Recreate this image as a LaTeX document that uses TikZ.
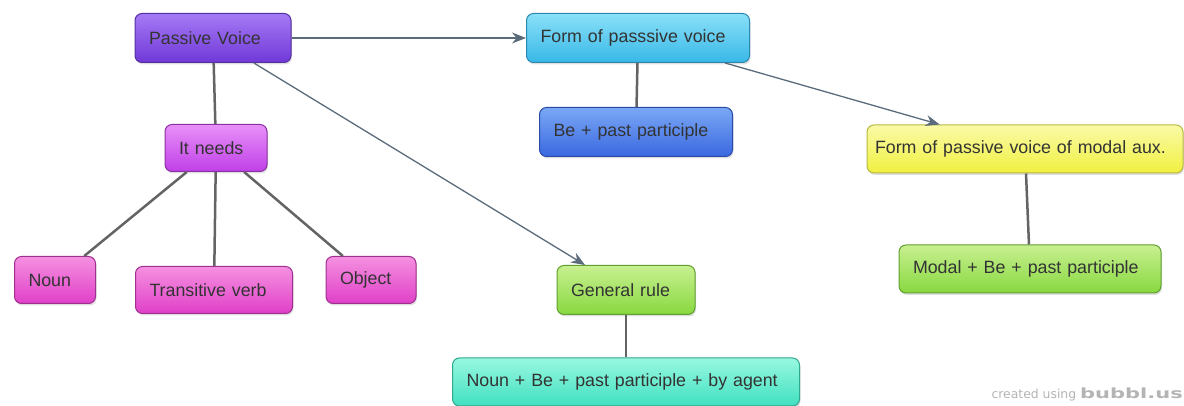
\documentclass[tikz,border=0pt]{standalone}
\usepackage{fontspec}
\setmainfont{Liberation Sans}
\newfontfamily\markfont{DejaVu Sans}
\usepackage{graphicx}
\usetikzlibrary{arrows.meta, shadows}

\definecolor{txtgray}{HTML}{333333}
\definecolor{linkgray}{HTML}{646464}
\definecolor{arrowgray}{HTML}{5A6B7B}
\definecolor{markgray}{HTML}{B4B4B4}
\definecolor{violettop}{HTML}{A57AF5}
\definecolor{violetbot}{HTML}{7038D8}
\definecolor{violetline}{HTML}{5530A0}
\definecolor{lilactop}{HTML}{E890F8}
\definecolor{lilacbot}{HTML}{C040E8}
\definecolor{lilacline}{HTML}{8A30A0}
\definecolor{pinktop}{HTML}{F590E0}
\definecolor{pinkbot}{HTML}{E040C8}
\definecolor{pinkline}{HTML}{A03090}
\definecolor{cyantop}{HTML}{8AE0F8}
\definecolor{cyanbot}{HTML}{38B8E8}
\definecolor{cyanline}{HTML}{2A88B0}
\definecolor{bluetop}{HTML}{7AA8F5}
\definecolor{bluebot}{HTML}{3A68E0}
\definecolor{blueline}{HTML}{2A4AA8}
\definecolor{yellowtop}{HTML}{FAFAA8}
\definecolor{yellowbot}{HTML}{F0F040}
\definecolor{yellowline}{HTML}{B8B840}
\definecolor{greentop}{HTML}{C8F090}
\definecolor{greenbot}{HTML}{88D840}
\definecolor{greenline}{HTML}{60A030}
\definecolor{tealtop}{HTML}{98F8E0}
\definecolor{tealbot}{HTML}{40E0C0}
\definecolor{tealline}{HTML}{30A890}

\tikzstyle{bubble} = [rectangle, rounded corners=7pt, line width=1pt, minimum height=49pt, inner xsep=14pt, align=left, text=txtgray, font=\fontsize{17.8}{20}\selectfont, drop shadow={opacity=0.25, shadow xshift=1pt, shadow yshift=-2pt}]
\tikzstyle{violetbox} = [bubble, draw=violetline, top color=violettop, bottom color=violetbot]
\tikzstyle{lilacbox} = [bubble, draw=lilacline, top color=lilactop, bottom color=lilacbot]
\tikzstyle{pinkbox} = [bubble, draw=pinkline, top color=pinktop, bottom color=pinkbot]
\tikzstyle{cyanbox} = [bubble, draw=cyanline, top color=cyantop, bottom color=cyanbot]
\tikzstyle{bluebox} = [bubble, draw=blueline, top color=bluetop, bottom color=bluebot]
\tikzstyle{yellowbox} = [bubble, draw=yellowline, top color=yellowtop, bottom color=yellowbot]
\tikzstyle{greenbox} = [bubble, draw=greenline, top color=greentop, bottom color=greenbot]
\tikzstyle{tealbox} = [bubble, draw=tealline, top color=tealtop, bottom color=tealbot]
\tikzstyle{link} = [line width=2.5pt, draw=linkgray]
\tikzstyle{arrow} = [line width=1.3pt, draw=arrowgray, ->, >={Stealth[length=14pt,width=11pt]}]

\begin{document}
\begin{tikzpicture}[x=1pt, y=1pt, node distance=100pt]
\useasboundingbox (0,0) rectangle (1184,406);

% Nodes / bubbles
\node (pv) [violetbox, text width=128pt] at (213,368) {Passive Voice};
\node (form) [cyanbox, right of=pv, xshift=325pt, text width=195pt] {Form of passsive voice};
\node (be) [bluebox, below of=form, yshift=6pt, xshift=-2pt, text width=165pt] {Be + past participle};
\node (modal) [yellowbox, right of=form, xshift=287pt, yshift=-111pt, inner xsep=8pt, text width=300pt, minimum height=48pt] {Form of passive voice of modal aux.};
\node (mbe) [greenbox, below of=modal, yshift=-20pt, xshift=5pt, text width=234pt, minimum height=48pt] {Modal + Be + past participle};
\node (needs) [lilacbox, below of=pv, yshift=-10pt, xshift=3pt, text width=74pt, minimum height=47pt] {It needs};
\node (noun) [pinkbox, below of=needs, yshift=-32pt, xshift=-161pt, text width=53pt, minimum height=47pt] {Noun};
\node (trans) [pinkbox, below of=needs, yshift=-42pt, xshift=-2pt, text width=129pt, minimum height=47pt] {Transitive verb};
\node (obj) [pinkbox, below of=needs, yshift=-32pt, xshift=155pt, text width=62pt, minimum height=47pt] {Object};
\node (gen) [greenbox, right of=trans, xshift=312pt, text width=110pt] {General rule};
\node (agent) [tealbox, below of=gen, yshift=8pt, text width=319pt, minimum height=48pt] {Noun + Be + past participle + by agent};

% Watermark
\node (mark) [anchor=south east, inner sep=0pt, text=markgray] at (1183,5) {\markfont\fontsize{12.4}{14}\selectfont created using \scalebox{1.5}[1]{\bfseries\fontsize{14}{14}\selectfont bubbl.us}};

% Lines
\draw [link] (pv) -- (needs);
\draw [link] (needs) -- (noun);
\draw [link] (needs) -- (trans);
\draw [link] (needs) -- (obj);
\draw [link] (form) -- (be);
\draw [link] (modal) -- (mbe);
\draw [link] (gen) -- (agent);

% Arrows
\draw [arrow] (pv) -- (form);
\draw [arrow] (pv) -- (gen);
\draw [arrow] (form) -- (modal);

\end{tikzpicture}
\end{document}
